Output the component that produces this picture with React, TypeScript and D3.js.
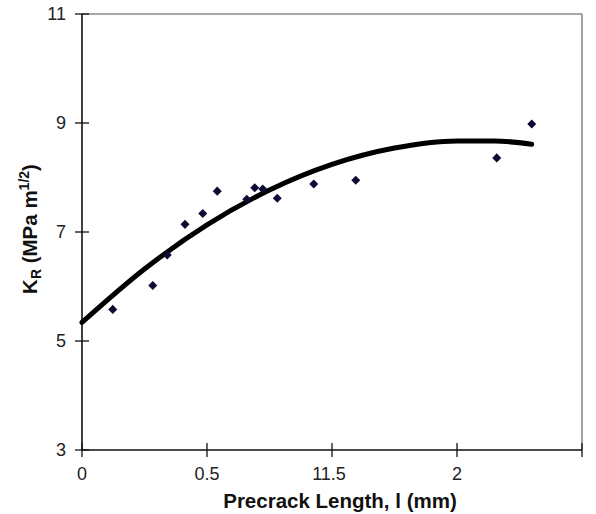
import React from 'react';
import * as d3 from 'd3';

const width = 596;
const height = 514;
const margin = { top: 14, right: 14, bottom: 64, left: 82 };

// measured points (precrack length mm, K_R)
const lengths = [0.123, 0.283, 0.341, 0.412, 0.483, 0.541, 0.659, 0.691, 0.723, 0.781, 0.927, 1.095, 1.659, 1.799];
const kValues = [5.58, 6.02, 6.58, 7.14, 7.34, 7.75, 7.6, 7.81, 7.79, 7.62, 7.88, 7.95, 8.36, 8.98];

// trend line
const trendX = [0, 0.25, 0.5, 0.75, 1.0, 1.25, 1.5, 1.65, 1.799];
const trendY = [5.34, 6.32, 7.13, 7.77, 8.24, 8.54, 8.67, 8.67, 8.61];

const xTicks = [0, 0.5, 1, 1.5, 2];
const xTickLabels = ['0', '0.5', '11.5', '2', ''];
const yTicks = [3, 5, 7, 9, 11];

const font = '"Liberation Sans", Arial, sans-serif';

export default function App() {
  const x = d3
    .scaleLinear()
    .domain([0, 2])
    .range([margin.left, width - margin.right]);
  const y = d3
    .scaleLinear()
    .domain([3, 11])
    .range([height - margin.bottom, margin.top]);

  const line = d3
    .line<number>()
    .x((d, i) => x(trendX[i]))
    .y(d => y(d))
    .curve(d3.curveMonotoneX);

  const diamond = d3.symbol().type(d3.symbolDiamond2).size(52)();

  const x0 = x(0);
  const x1 = x(2);
  const y0 = y(3);
  const y1 = y(11);

  return (
    <svg
      width={width}
      height={height}
      style={{ position: 'absolute', left: 0, top: 0, background: '#fff' }}
    >
      {/* frame: top and right in grey */}
      <line x1={x0} x2={x1} y1={y1} y2={y1} stroke="#8a8a8a" strokeWidth={1.6} />
      <line x1={x1} x2={x1} y1={y1} y2={y0} stroke="#8a8a8a" strokeWidth={1.6} />

      {/* axes */}
      <line x1={x0} x2={x0} y1={y1} y2={y0} stroke="#111" strokeWidth={1.6} />
      <line x1={x0} x2={x1} y1={y0} y2={y0} stroke="#111" strokeWidth={1.6} />

      {yTicks.map(t => (
        <g key={'y' + t}>
          <line x1={x0 - 7} x2={x0 + 7} y1={y(t)} y2={y(t)} stroke="#111" strokeWidth={1.3} />
          <text
            x={66}
            y={y(t)}
            dy="0.36em"
            textAnchor="end"
            fontFamily={font}
            fontSize={18}
            fill="#222"
          >
            {t}
          </text>
        </g>
      ))}

      {xTicks.map((t, i) => (
        <g key={'x' + t}>
          <line x1={x(t)} x2={x(t)} y1={y0 - 7} y2={y0 + 7} stroke="#111" strokeWidth={1.3} />
          <text
            x={x(t) - (xTickLabels[i] === '11.5' ? 3 : 0)}
            y={480}
            textAnchor="middle"
            fontFamily={font}
            fontSize={18}
            fill="#222"
          >
            {xTickLabels[i]}
          </text>
        </g>
      ))}

      {/* trend line */}
      <path d={line(trendY) || ''} fill="none" stroke="#000" strokeWidth={5} strokeLinecap="round" />

      {/* data */}
      {lengths.map((l, i) => (
        <path
          key={i}
          d={diamond || ''}
          transform={`translate(${x(l)},${y(kValues[i])})`}
          fill="#0b0b33"
        />
      ))}

      {/* axis titles */}
      <text
        x={340}
        y={508}
        textAnchor="middle"
        fontFamily={font}
        fontSize={20.5}
        fontWeight="bold"
        fill="#111"
      >
        Precrack Length, l (mm)
      </text>
      <text
        transform={`translate(37, 229) rotate(-90)`}
        textAnchor="middle"
        fontFamily={font}
        fontSize={20.5}
        fontWeight="bold"
        fill="#111"
      >
        K<tspan fontSize={14} dy={4}>R</tspan>
        <tspan dy={-4}> (MPa m</tspan>
        <tspan fontSize={14} dy={-8}>1/2</tspan>
        <tspan dy={8}>)</tspan>
      </text>
    </svg>
  );
}
